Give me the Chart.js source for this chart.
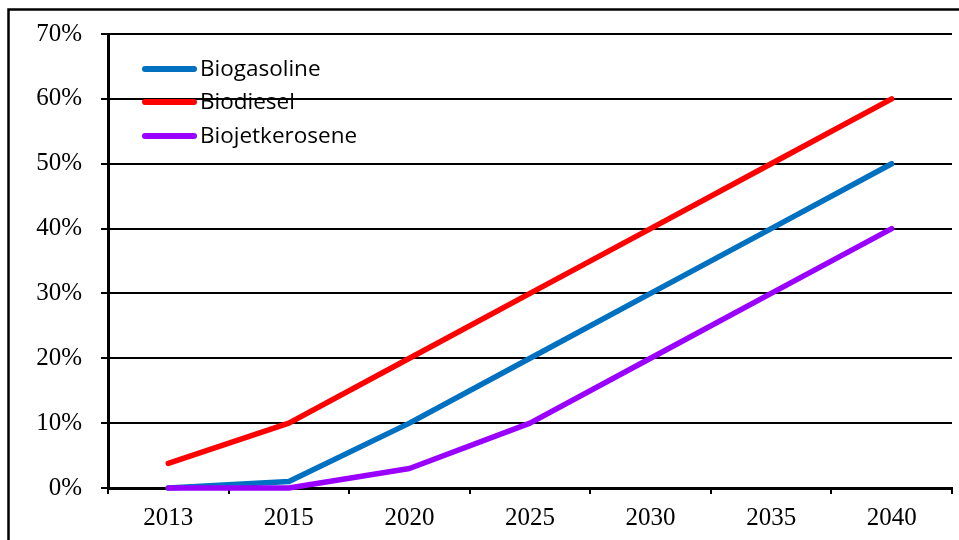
<!DOCTYPE html>
<html>
<head>
<meta charset="utf-8">
<script src="https://cdn.jsdelivr.net/npm/chart.js@4.4.1/dist/chart.umd.min.js"></script>
<style>
html,body{margin:0;padding:0;background:#fff;}
#wrap{position:relative;width:959px;height:540px;}
</style>
</head>
<body>
<div id="wrap"><canvas id="c" width="959" height="540"></canvas></div>
<script>
const categories = ['2013','2015','2020','2025','2030','2035','2040'];
const biogasoline = [0, 1, 10, 20, 30, 40, 50];
const biodiesel = [3.8, 10, 20, 30, 40, 50, 60];
const biojetkerosene = [0, 0, 3, 10, 20, 30, 40];
const seriesNames = ['Biogasoline','Biodiesel','Biojetkerosene'];
const seriesColors = ['#0070C0','#FF0000','#9900FF'];

const framePlugin = {
  id: 'frame',
  beforeDraw(chart) {
    const ctx = chart.ctx;
    ctx.save();
    ctx.fillStyle = '#fff';
    ctx.fillRect(0, 0, chart.width, chart.height);
    ctx.strokeStyle = '#000';
    ctx.lineWidth = 2.5;
    ctx.strokeRect(8.5, 9.5, chart.width + 20, chart.height + 20);
    ctx.restore();
  }
};

const legendPlugin = {
  id: 'innerLegend',
  afterDatasetsDraw(chart) {
    const ctx = chart.ctx;
    ctx.save();
    const x0 = 142, x1 = 197, ys = [69, 102, 136];
    chart.data.datasets.forEach((ds, i) => {
      ctx.strokeStyle = ds.borderColor;
      ctx.lineWidth = 6;
      ctx.lineCap = 'round';
      ctx.beginPath();
      ctx.moveTo(x0 + 3, ys[i]);
      ctx.lineTo(x1 - 3, ys[i]);
      ctx.stroke();
      ctx.fillStyle = '#000';
      ctx.font = '22.5px "Open Sans"';
      ctx.textBaseline = 'middle';
      ctx.textAlign = 'left';
      ctx.fillText(ds.label, 200, ys[i] + 1);
    });
    ctx.restore();
  }
};

const dataArrays = [biogasoline, biodiesel, biojetkerosene];
const orders = [2, 1, 0];

new Chart(document.getElementById('c'), {
  type: 'line',
  data: {
    labels: categories,
    datasets: dataArrays.map((d, i) => ({
      label: seriesNames[i],
      data: d,
      borderColor: seriesColors[i],
      backgroundColor: seriesColors[i],
      borderWidth: 5.5,
      pointRadius: 0,
      tension: 0,
      borderCapStyle: 'round',
      borderJoinStyle: 'round',
      order: orders[i],
      clip: false
    }))
  },
  options: {
    responsive: false,
    animation: false,
    devicePixelRatio: 1,
    layout: { padding: { left: 0, top: 32, right: 7, bottom: 0 } },
    plugins: { legend: { display: false }, tooltip: { enabled: false } },
    scales: {
      x: {
        type: 'category',
        offset: true,
        grid: { offset: true, drawOnChartArea: false, drawTicks: true, tickLength: 6, color: '#000', lineWidth: 2 },
        border: { color: '#000', width: 3 },
        ticks: { color: '#000', font: { family: 'Liberation Serif', size: 25 }, padding: 9, maxRotation: 0, autoSkip: false },
        afterFit(s) { s.height = 52; }
      },
      y: {
        min: 0, max: 70,
        grid: { color: '#000', lineWidth: 2, drawTicks: true, tickLength: 7 },
        border: { color: '#000', width: 3 },
        ticks: { stepSize: 10, color: '#000', font: { family: 'Liberation Serif', size: 25 }, padding: 19, callback: v => v + '%' },
        afterFit(s) { s.width = 108; }
      }
    }
  },
  plugins: [framePlugin, legendPlugin]
});
</script>
</body>
</html>
